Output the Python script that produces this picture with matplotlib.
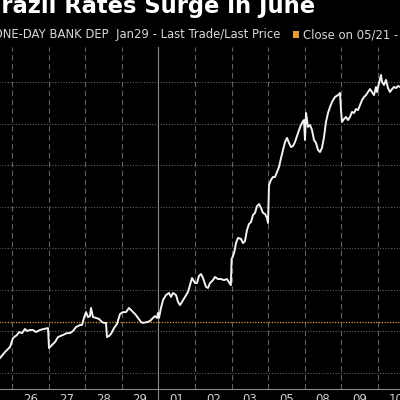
import matplotlib
matplotlib.use("Agg")
import matplotlib.pyplot as plt
from matplotlib.patches import Rectangle

# ---- data ----
day_labels = ["25", "26", "27", "28", "29", "01", "02", "03", "05", "08", "09", "10"]
day_boundaries = [1, 2, 3, 4, 5, 6, 7, 8, 9, 10, 11]
month_boundary = 5
rate_grid = [11.2, 11.4, 11.6, 11.8, 12.0, 12.2, 12.4, 12.6]
close_0521 = 11.445

t = [0.672, 0.809, 0.945, 1.027, 1.137, 1.191, 1.273, 1.355, 1.410, 1.492, 1.574, 1.656,
     1.765, 1.874, 1.984, 2.011, 2.093, 2.175, 2.257, 2.393, 2.503, 2.585, 2.667, 2.749,
     2.858, 2.913, 2.967, 3.022, 3.077, 3.131, 3.158, 3.213, 3.295, 3.377, 3.459, 3.514,
     3.568, 3.596, 3.650, 3.705, 3.787, 3.869, 3.951, 4.033, 4.115, 4.197, 4.279, 4.361,
     4.443, 4.525, 4.579, 4.689, 4.770, 4.852, 4.907, 4.962, 4.989, 5.016, 5.071, 5.126,
     5.208, 5.290, 5.344, 5.399, 5.481, 5.536, 5.590, 5.645, 5.727, 5.809, 5.863, 5.918,
     6.000, 6.055, 6.109, 6.164, 6.219, 6.301, 6.355, 6.410, 6.492, 6.546, 6.628, 6.710,
     6.792, 6.874, 6.980, 7.000, 7.040, 7.080, 7.120, 7.175, 7.257, 7.311, 7.366, 7.421,
     7.475, 7.530, 7.585, 7.639, 7.694, 7.749, 7.803, 7.858, 7.913, 7.967, 7.995, 8.022,
     8.077, 8.131, 8.186, 8.240, 8.295, 8.350, 8.404, 8.459, 8.514, 8.568, 8.623, 8.678,
     8.732, 8.787, 8.842, 8.896, 8.951, 8.978, 9.005, 9.033, 9.087, 9.142, 9.197, 9.251,
     9.306, 9.361, 9.415, 9.470, 9.525, 9.579, 9.634, 9.689, 9.743, 9.825, 9.907, 9.962,
     9.989, 10.016, 10.071, 10.126, 10.180, 10.235, 10.290, 10.344, 10.399, 10.454, 10.508,
     10.563, 10.618, 10.672, 10.727, 10.782, 10.836, 10.891, 10.945, 10.973, 11.027, 11.082,
     11.109, 11.164, 11.219, 11.273, 11.328, 11.383, 11.437, 11.492, 11.547, 11.601, 11.70]

rate = [11.272, 11.301, 11.325, 11.368, 11.383, 11.397, 11.392, 11.412, 11.402, 11.407, 11.407, 11.397,
        11.407, 11.412, 11.416, 11.320, 11.335, 11.349, 11.373, 11.383, 11.392, 11.392, 11.402, 11.421,
        11.431, 11.431, 11.465, 11.493, 11.469, 11.474, 11.513, 11.469, 11.465, 11.460, 11.445, 11.441,
        11.441, 11.373, 11.378, 11.388, 11.416, 11.436, 11.484, 11.493, 11.493, 11.513, 11.498, 11.484,
        11.465, 11.445, 11.441, 11.445, 11.450, 11.465, 11.474, 11.465, 11.489, 11.465, 11.513, 11.551,
        11.575, 11.585, 11.566, 11.585, 11.575, 11.542, 11.527, 11.542, 11.566, 11.590, 11.623, 11.657,
        11.633, 11.633, 11.667, 11.676, 11.657, 11.614, 11.609, 11.633, 11.647, 11.662, 11.652, 11.652,
        11.647, 11.652, 11.623, 11.748, 11.763, 11.787, 11.825, 11.850, 11.845, 11.825, 11.835, 11.888,
        11.917, 11.926, 11.960, 11.970, 12.003, 12.013, 11.994, 11.970, 11.965, 11.946, 11.922, 12.104,
        12.129, 12.143, 12.143, 12.167, 12.191, 12.234, 12.273, 12.311, 12.331, 12.307, 12.287, 12.292,
        12.311, 12.340, 12.369, 12.393, 12.412, 12.417, 12.321, 12.451, 12.384, 12.393, 12.369, 12.321,
        12.307, 12.273, 12.263, 12.283, 12.335, 12.408, 12.451, 12.480, 12.504, 12.528, 12.537, 12.547,
        12.465, 12.408, 12.422, 12.432, 12.417, 12.432, 12.456, 12.451, 12.470, 12.465, 12.489,
        12.513, 12.528, 12.537, 12.552, 12.566, 12.552, 12.537, 12.576, 12.552, 12.595, 12.634,
        12.600, 12.586, 12.610, 12.571, 12.552, 12.566, 12.576, 12.571, 12.581, 12.576, 12.580]

title = "Brazil Rates Surge in June"
legend_main = "BZ ONE-DAY BANK DEP  Jan29 - Last Trade/Last Price"
legend_close = "Close on 05/21 - 11.44"

# ---- figure ----
W = H = 400
fig = plt.figure(figsize=(4, 4), dpi=100, facecolor="black")

ax_left_px, ax_right_px = -30, 430
ax_top_px, ax_bot_px = 47, 389
ax = fig.add_axes([ax_left_px / W, (H - ax_bot_px) / H,
                   (ax_right_px - ax_left_px) / W, (ax_bot_px - ax_top_px) / H])
ax.set_facecolor("black")

# x scale: day boundary k at px 12 + 36.6*(k-1)
def px_to_t(px):
    return 1 + (px - 12) / 36.6
ax.set_xlim(px_to_t(ax_left_px), px_to_t(ax_right_px))
# y scale: 11.2 at px 373, 0.2 per 41.57 px
def py_to_v(py):
    return 11.2 + (373 - py) * 0.2 / 41.57
ax.set_ylim(py_to_v(ax_bot_px), py_to_v(ax_top_px))

# gridlines
for g in rate_grid:
    ax.axhline(g, color="#606060", lw=0.8, ls=(0, (1, 1.5)), zorder=1)
for b in day_boundaries:
    if b == month_boundary:
        ax.axvline(b, ymin=-0.05, ymax=1, color="#8a8a8a", lw=0.8, zorder=1, clip_on=False)
    else:
        ax.axvline(b, color="#606060", lw=0.8, ls=(0, (5, 3)), zorder=1)

ax.axhline(close_0521, color="#e39a3a", lw=0.9, ls=(0, (1, 1.2)), zorder=2)
ax.plot(t, rate, color="#f2f2f2", lw=1.4, zorder=3, solid_joinstyle="round")

ax.set_xticks([i + 0.5 for i in range(len(day_labels))])
ax.set_xticklabels(day_labels)
ax.tick_params(axis="x", length=0, pad=3, colors="#d0d0d0", labelsize=8.5)
ax.set_yticks([])
for s in ["top", "left", "right"]:
    ax.spines[s].set_visible(False)
ax.spines["bottom"].set_color("#8a8a8a")
ax.spines["bottom"].set_linewidth(0.8)

# title and legend
fig.text(315 / W, 1 - 13 / H, title, ha="right", va="baseline", color="white",
         fontsize=16.3, fontweight="bold", family="DejaVu Sans")
fig.text(280 / W, 1 - 38 / H, legend_main, ha="right", va="baseline", color="#d8d8d8",
         fontsize=8.4, family="DejaVu Sans")
fig.patches.append(Rectangle((293 / W, 1 - 38 / H), 6 / W, 7 / H, transform=fig.transFigure,
                             facecolor="#e39a3a", edgecolor="none"))
fig.text(303 / W, 1 - 38 / H, legend_close, ha="left", va="baseline", color="#d8d8d8",
         fontsize=8.4, family="DejaVu Sans")

fig.savefig("out.png", dpi=100, facecolor="black")
